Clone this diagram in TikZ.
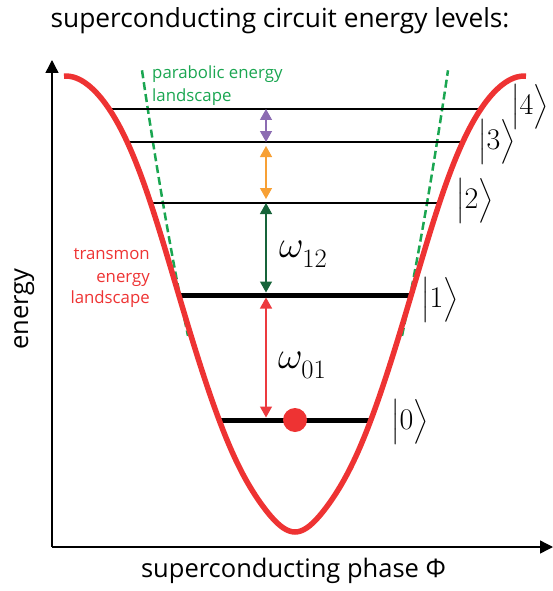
\RequirePackage{fix-cm}
\documentclass[tikz,border=0pt]{standalone}
\usepackage{amsmath}
\usepackage{fontspec}
\usetikzlibrary{arrows.meta}
\newfontfamily\labelfont{Open Sans}
\definecolor{curvered}{HTML}{EE3333}
\definecolor{paragreen}{HTML}{1AA651}
\definecolor{arrowpurple}{HTML}{8C6CB2}
\definecolor{arroworange}{HTML}{F7A035}
\definecolor{arrowgreen}{HTML}{17643A}
\definecolor{arrowred}{HTML}{EC3A3F}
\begin{document}
\begin{tikzpicture}[x=1pt,y=-1pt,
  axisline/.style={line width=1.4pt,-{Triangle[length=13pt,width=13pt]}},
  thinlevel/.style={line width=1.3pt},
  thicklevel/.style={line width=5pt},
  trans/.style={line width=1.3pt,{Triangle[length=11pt,width=12pt]}-{Triangle[length=11pt,width=12pt]}},
  ket/.style={font=\fontsize{30}{45}\selectfont,inner sep=0pt},
  omega/.style={font=\fontsize{38}{38}\selectfont,inner sep=0pt,anchor=base west},
  biglabel/.style={font=\labelfont\fontsize{25.5}{30}\selectfont,inner sep=0pt},
  smalllabel/.style={font=\labelfont\fontsize{16.8}{20}\selectfont,inner sep=0pt},
  paracurve/.style={paragreen,line width=2.5pt,dash pattern=on 8pt off 4pt},
  transcurve/.style={curvered,line width=5.5pt}]
\useasboundingbox (0,0) rectangle (553,591);

% axes
\coordinate (origin) at (52,547);
\coordinate (ytip) at (52,60);
\coordinate (xtip) at (553,547);
\draw[axisline] (origin) -- (ytip);
\draw[axisline] (origin) -- (xtip);

% parabolic approximation
\draw[paracurve] plot[domain=-15.3:-10.7,samples=25] ({295+10*(\x)},{590-2.22*(\x)^2});
\draw[paracurve] plot[domain=10.7:15.3,samples=25] ({295+10*(\x)},{590-2.22*(\x)^2});

% levels
\coordinate (L4a) at (110,109); \coordinate (L4b) at (480,109);
\coordinate (L3a) at (128,142); \coordinate (L3b) at (462,142);
\coordinate (L2a) at (151,203); \coordinate (L2b) at (439,203);
\coordinate (L1a) at (179,295); \coordinate (L1b) at (411,295);
\coordinate (L0a) at (219,420); \coordinate (L0b) at (371,420);
\draw[thinlevel] (L4a) -- (L4b);
\draw[thinlevel] (L3a) -- (L3b);
\draw[thinlevel] (L2a) -- (L2b);
\draw[thicklevel] (L1a) -- (L1b);
\draw[thicklevel] (L0a) -- (L0b);

% transmon potential
\draw[transcurve] plot[domain=-231:231,samples=155,smooth]
  ({295+(\x)},{532-227.5*(1-cos(0.77953*(\x)))-15*exp(-min(9,((abs(\x)-155)/45)^2))-12*((\x)/35)^2*exp(-min(9,((\x)/35)^2))});

% transitions
\coordinate (P4) at (266,109); \coordinate (P3) at (266,142);
\coordinate (O3) at (266,146); \coordinate (O2) at (266,199);
\coordinate (G2) at (266,203); \coordinate (G1) at (266,292.5);
\coordinate (R1) at (266,297.5); \coordinate (R0) at (266,417.5);
\draw[trans,arrowpurple] (P4) -- (P3);
\draw[trans,arroworange] (O3) -- (O2);
\draw[trans,arrowgreen] (G2) -- (G1);
\draw[trans,arrowred] (R1) -- (R0);

% ground state ball
\node[circle,fill=curvered,minimum size=24pt,inner sep=0pt] (ball) at (295,420) {};

% labels
\node[omega] (w12) at (279,257) {$\omega_{\raisebox{-5pt}{$\scriptstyle 12$}}$};
\node[omega] (w01) at (278,368) {$\omega_{\raisebox{-5pt}{$\scriptstyle 01$}}$};

\node[ket] (k0) at (410,422) {$\bigl|0\bigr\rangle$};
\node[ket] (k1) at (440,300) {$\bigl|1\bigr\rangle$};
\node[ket] (k2) at (475,201) {$\bigl|2\bigr\rangle$};
\node[ket] (k3) at (497,142) {$\bigl|3\bigr\rangle$};
\node[ket] (k4) at (530,107) {$\bigl|4\bigr\rangle$};

\node[biglabel,anchor=base,font=\labelfont\fontsize{26.3}{30}\selectfont] (title) at (280,28) {superconducting circuit energy levels:};
\node[biglabel,anchor=base] (xlab) at (293.5,577) {superconducting phase Φ};
\node[biglabel,anchor=base,rotate=90] (ylab) at (28,309) {energy};

\node[smalllabel,text=paragreen,anchor=base west] (para1) at (152,79) {parabolic energy};
\node[smalllabel,text=paragreen,anchor=base west] (para2) at (152,102) {landscape};

\node[smalllabel,text=curvered,anchor=base east] (tr1) at (150,259) {transmon};
\node[smalllabel,text=curvered,anchor=base east] (tr2) at (150,282) {energy};
\node[smalllabel,text=curvered,anchor=base east] (tr3) at (150,303) {landscape};
\end{tikzpicture}
\end{document}
